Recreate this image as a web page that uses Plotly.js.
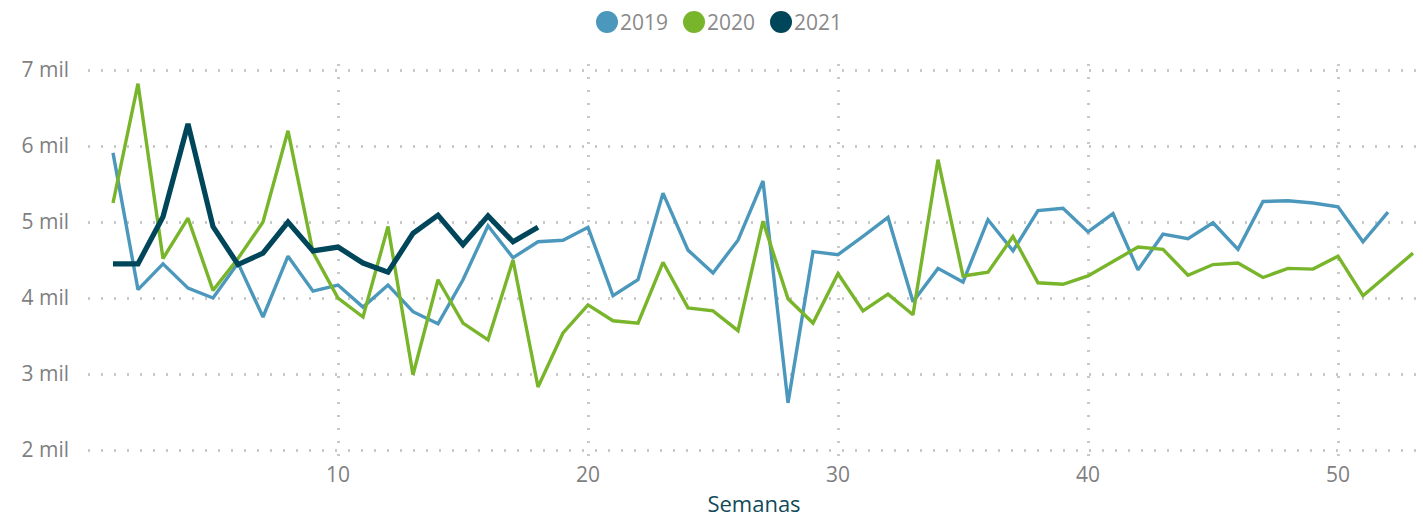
<!DOCTYPE html>
<html>
<head>
<meta charset="utf-8">
<script src="https://cdn.plot.ly/plotly-3.0.1.min.js"></script>
<style>
  html, body { margin: 0; padding: 0; background: #ffffff; }
  #chart { width: 1423px; height: 520px; }
</style>
</head>
<body>
<div id="chart"></div>
<script>
// ---- Data (in units) ----
const seriesNames = ["2019", "2020", "2021"];
const seriesColors = ["#4b98bc", "#78b52a", "#00465a"];
const seriesWidths = [3.4, 3.4, 5.2];

const weeks2019 = Array.from({length: 52}, (_, i) => i + 1);
const values2019 = [5910, 4110, 4450, 4130, 4000, 4460, 3750, 4550, 4090, 4170,
                    3880, 4170, 3820, 3660, 4240, 4950, 4530, 4740, 4760, 4930,
                    4030, 4240, 5380, 4630, 4330, 4760, 5540, 2620, 4610, 4570,
                    4810, 5060, 3950, 4390, 4210, 5030, 4620, 5150, 5180, 4870,
                    5110, 4370, 4840, 4780, 4990, 4640, 5270, 5280, 5250, 5200,
                    4740, 5130];

const weeks2020 = Array.from({length: 53}, (_, i) => i + 1);
const values2020 = [5250, 6820, 4520, 5050, 4100, 4520, 5000, 6200, 4600, 4000,
                    3750, 4940, 2990, 4240, 3670, 3450, 4500, 2830, 3540, 3910,
                    3700, 3670, 4470, 3870, 3830, 3570, 5010, 3990, 3670, 4320,
                    3830, 4050, 3780, 5820, 4290, 4340, 4810, 4200, 4180, 4290,
                    4480, 4670, 4640, 4300, 4440, 4460, 4270, 4390, 4380, 4550,
                    4030, 4310, 4590];

const weeks2021 = Array.from({length: 18}, (_, i) => i + 1);
const values2021 = [4450, 4450, 5070, 6290, 4940, 4440, 4590, 5000, 4620, 4670,
                    4460, 4340, 4850, 5090, 4700, 5080, 4740, 4930];

const yTickVals = [2000, 3000, 4000, 5000, 6000, 7000];
const yTickText = ["2 mil", "3 mil", "4 mil", "5 mil", "6 mil", "7 mil"];
const xTickVals = [10, 20, 30, 40, 50];
const xTitle = "Semanas";

// ---- Layout geometry ----
const W = 1423, H = 520;
const mL = 88, mR = 3, mT = 64, mB = 64;
const plotW = W - mL - mR, plotH = H - mT - mB;
const px2x = px => (px - mL) / plotW;
const py2y = py => (H - mB - py) / plotH;
const yPad = 1000 * (plotH - 380) / 2 / 76;

const xs = [weeks2019, weeks2020, weeks2021];
const ys = [values2019, values2020, values2021];

const traces = seriesNames.map((name, i) => ({
  type: "scatter",
  mode: "lines",
  name: name,
  x: xs[i],
  y: ys[i],
  line: { color: seriesColors[i], width: seriesWidths[i] },
  showlegend: false,
  hoverinfo: "skip"
}));

// custom legend (circles + text) at the top centre
const legendCentersPx = [607, 694, 781];
const legendY = 22;
const shapes = [];
const annotations = [];
seriesNames.forEach((name, i) => {
  shapes.push({
    type: "circle",
    xref: "paper", yref: "paper",
    xsizemode: "pixel", ysizemode: "pixel",
    xanchor: px2x(legendCentersPx[i]), yanchor: py2y(legendY),
    x0: -11, x1: 11, y0: -11, y1: 11,
    fillcolor: seriesColors[i],
    line: { width: 0 }
  });
  annotations.push({
    xref: "paper", yref: "paper",
    x: px2x(legendCentersPx[i] + 12), y: py2y(legendY),
    xanchor: "left", yanchor: "middle",
    text: name,
    showarrow: false,
    font: { family: "Open Sans, sans-serif", size: 21, color: "#8a8a8a" },
    borderpad: 0
  });
});

const gridColor = "#c9c9c9";

const layout = {
  width: W, height: H,
  margin: { l: mL, r: mR, t: mT, b: mB, pad: 0 },
  paper_bgcolor: "#ffffff",
  plot_bgcolor: "#ffffff",
  showlegend: false,
  font: { family: "Open Sans, sans-serif", color: "#808080" },
  xaxis: {
    range: [0, plotW / 25],
    tickvals: xTickVals,
    ticktext: xTickVals.map(String),
    ticks: "",
    showline: false,
    zeroline: false,
    showgrid: true,
    gridcolor: gridColor,
    gridwidth: 3,
    griddash: "1.5px,11.5px",
    tickfont: { size: 21, color: "#7f7f7f" },
    ticklabelstandoff: 4,
    title: { text: xTitle, font: { size: 22, color: "#124a5b" }, standoff: 9 },
    fixedrange: true
  },
  yaxis: {
    range: [2000 - yPad, 7000 + yPad],
    tickvals: yTickVals,
    ticktext: yTickText,
    ticks: "",
    showline: false,
    zeroline: false,
    showgrid: true,
    gridcolor: gridColor,
    gridwidth: 3,
    griddash: "1.5px,11.5px",
    tickfont: { size: 21, color: "#7f7f7f" },
    ticklabelstandoff: 18,
    fixedrange: true
  },
  shapes: shapes,
  annotations: annotations
};

Plotly.newPlot("chart", traces, layout, { staticPlot: true, displayModeBar: false });
</script>
</body>
</html>
